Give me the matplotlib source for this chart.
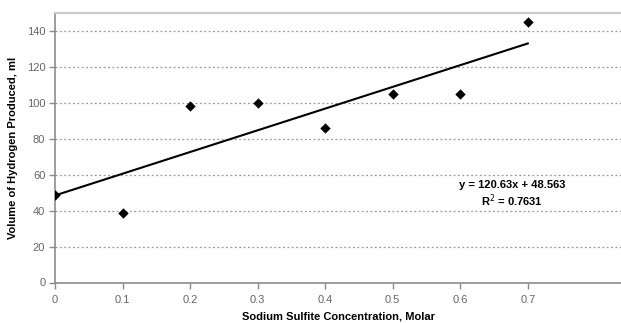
import numpy as np
import matplotlib
matplotlib.use("Agg")
import matplotlib.pyplot as plt

concentration = [0.0, 0.1, 0.2, 0.3, 0.4, 0.5, 0.6, 0.7]
hydrogen_ml = [48.5, 38.5, 98, 100, 86, 105, 105, 145]
x_ticks = [0, 0.1, 0.2, 0.3, 0.4, 0.5, 0.6, 0.7]
x_tick_labels = ["0", "0.1", "0.2", "0.3", "0.4", "0.5", "0.6", "0.7"]
y_ticks = [0, 20, 40, 60, 80, 100, 120, 140]

plt.rcParams.update({
    "font.family": ["Liberation Sans Narrow", "Liberation Sans", "DejaVu Sans"],
})

fig = plt.figure(figsize=(6.21, 3.23), dpi=100)
ax = fig.add_axes([55 / 621, 1 - 282.5 / 323, 566 / 621, 269.5 / 323])

slope, intercept = np.polyfit(concentration, hydrogen_ml, 1)
xs = np.array([concentration[0], concentration[-1]])
ax.plot(xs, slope * xs + intercept, color="black", linewidth=1.5, zorder=2)
ax.scatter(concentration, hydrogen_ml, marker="D", s=28, color="black",
           zorder=3, linewidths=0)

ax.set_xlim(0, 0.838)
ax.set_ylim(0, 150)
ax.set_xticks(x_ticks)
ax.set_xticklabels(x_tick_labels)
ax.set_yticks(y_ticks)

ax.yaxis.grid(True, linestyle=(0, (1.5, 2)), color="#999999", linewidth=0.9)
ax.set_axisbelow(True)

for side in ["left", "bottom"]:
    ax.spines[side].set_color("#8c8c8c")
    ax.spines[side].set_linewidth(1.2)
ax.spines["top"].set_color("#c8c8c8")
ax.spines["top"].set_linewidth(1.5)
ax.spines["right"].set_visible(False)

ax.tick_params(axis="both", direction="out", length=4, width=1,
               color="#8c8c8c", labelcolor="#666666", labelsize=8)
ax.tick_params(axis="x", pad=5)
ax.tick_params(axis="y", pad=3)

ax.set_xlabel("Sodium Sulfite Concentration, Molar", fontsize=8,
              fontweight="bold", labelpad=5)
ax.set_ylabel("Volume of Hydrogen Produced, ml", fontsize=8,
              fontweight="bold", labelpad=6)

ax.text(0.677, 49, "y = 120.63x + 48.563\nR$^2$ = 0.7631",
        fontsize=8, fontweight="bold", ha="center", va="center",
        linespacing=1.2)

fig.savefig("out.png", dpi=100, facecolor="white")
